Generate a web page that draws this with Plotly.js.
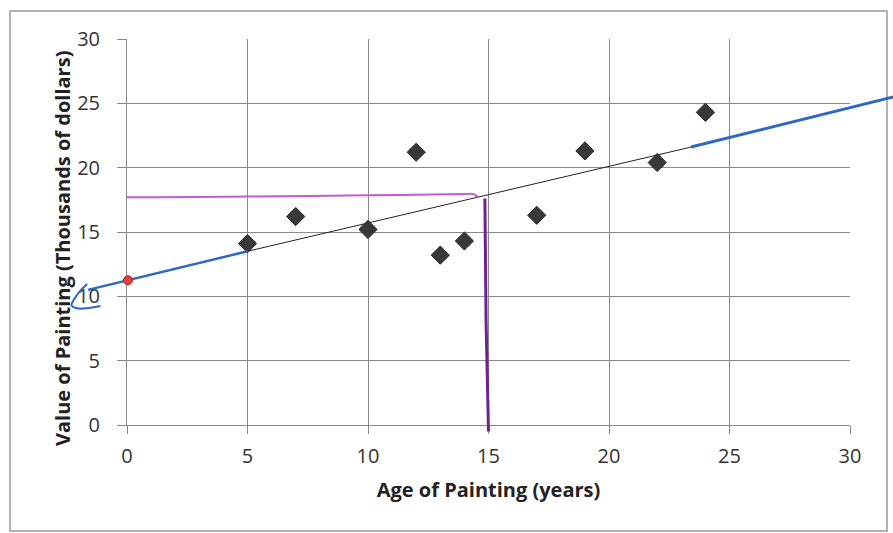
<!DOCTYPE html>
<html>
<head>
<meta charset="utf-8">
<script src="https://cdn.plot.ly/plotly-3.0.1.min.js"></script>
<style>html,body{margin:0;padding:0;background:#fff;}#chart{width:893px;height:533px;}</style>
</head>
<body>
<div id="chart"></div>
<script>
// ---- data ----
const ageYears = [5, 7, 10, 12, 13, 14, 17, 19, 22, 24];
const valueThousands = [14.1, 16.2, 15.2, 21.2, 13.2, 14.3, 16.3, 21.3, 20.4, 24.3];

const trendX = [5, 23.4];
const trendY = [13.5, 21.6];

// hand-drawn annotations (data units)
const blueLeftX = [-1.62, 0.04, 5.0];
const blueLeftY = [10.5, 11.25, 13.5];
const blueHookX = [-1.65, -1.95, -2.2, -2.3, -2.0, -1.6, -1.1];
const blueHookY = [10.95, 10.4, 9.75, 9.3, 9.05, 9.1, 9.25];
const blueRightX = [23.4, 31.8];
const blueRightY = [21.6, 25.5];
const purpleHX = [0.0, 1.3, 5, 10, 14.0, 14.35, 14.55];
const purpleHY = [17.7, 17.7, 17.75, 17.85, 17.95, 17.95, 17.75];
const purpleVX = [14.85, 14.9, 15.0];
const purpleVY = [17.6, 8.0, -0.5];
const redPointX = [0.04];
const redPointY = [11.25];

const xTicks = [0, 5, 10, 15, 20, 25, 30];
const yTicks = [0, 5, 10, 15, 20, 25, 30];
const xTitle = 'Age of Painting (years)';
const yTitle = 'Value of Painting (Thousands of dollars)';

// ---- layout geometry ----
const W = 893, H = 533;
const plotL = 127, plotR = 850, plotT = 39, plotB = 425;
const xRange = [0, 30], yRange = [0, 30];
const pxX = (plotR - plotL) / (xRange[1] - xRange[0]);
const pxY = (plotB - plotT) / (yRange[1] - yRange[0]);
const x2Range = [xRange[0] - plotL / pxX, xRange[1] + (W - plotR) / pxX];
const y2Range = [yRange[0] - (H - plotB) / pxY, yRange[1] + plotT / pxY];

const font = "'Open Sans', Lato, sans-serif";

const traces = [
  {x: trendX, y: trendY, mode: 'lines', line: {color: '#222', width: 1}, xaxis: 'x', yaxis: 'y', hoverinfo: 'skip'},
  {x: ageYears, y: valueThousands, mode: 'markers', marker: {symbol: 'diamond', size: 14, color: '#383838', line: {color: '#222', width: 1}}, xaxis: 'x', yaxis: 'y'},
  {x: purpleHX, y: purpleHY, mode: 'lines', line: {color: '#c45ad6', width: 2, shape: 'spline'}, xaxis: 'x2', yaxis: 'y2'},
  {x: purpleVX, y: purpleVY, mode: 'lines', line: {color: '#6e2190', width: 3}, xaxis: 'x2', yaxis: 'y2'},
  {x: blueLeftX, y: blueLeftY, mode: 'lines', line: {color: '#2f68c4', width: 2.5}, xaxis: 'x2', yaxis: 'y2'},
  {x: blueHookX, y: blueHookY, mode: 'lines', line: {color: '#2f68c4', width: 2, shape: 'spline'}, xaxis: 'x2', yaxis: 'y2'},
  {x: blueRightX, y: blueRightY, mode: 'lines', line: {color: '#2f68c4', width: 3}, xaxis: 'x2', yaxis: 'y2'},
  {x: redPointX, y: redPointY, mode: 'markers', marker: {symbol: 'circle', size: 9, color: '#e0403a', line: {color: '#b02020', width: 1}}, xaxis: 'x2', yaxis: 'y2'}
];

const layout = {
  width: W, height: H,
  margin: {l: 0, r: 0, t: 0, b: 0, pad: 0},
  paper_bgcolor: '#fff', plot_bgcolor: 'rgba(0,0,0,0)',
  showlegend: false,
  font: {family: font, color: '#333', size: 20},
  xaxis: {
    domain: [plotL / W, plotR / W], range: xRange, tickvals: xTicks, ticktext: xTicks.map(String),
    showgrid: true, gridcolor: '#8a8a8a', gridwidth: 1, zeroline: false,
    showline: true, linecolor: '#8a8a8a', linewidth: 1,
    ticks: 'outside', ticklen: 8, tickcolor: '#8a8a8a', ticklabelstandoff: 5,
    tickfont: {family: font, size: 20, color: '#333'},
    title: {text: '<b>' + xTitle + '</b>', font: {family: font, size: 20, color: '#222'}, standoff: 14},
    automargin: false, fixedrange: true
  },
  yaxis: {
    domain: [(H - plotB) / H, (H - plotT) / H], range: yRange, tickvals: yTicks, ticktext: yTicks.map(String),
    showgrid: true, gridcolor: '#8a8a8a', gridwidth: 1, zeroline: false,
    showline: true, linecolor: '#8a8a8a', linewidth: 1,
    ticks: 'outside', ticklen: 9, tickcolor: '#8a8a8a', ticklabelstandoff: 13,
    tickfont: {family: font, size: 20, color: '#333'},
    automargin: false, fixedrange: true
  },
  xaxis2: {domain: [0, 1], range: x2Range, anchor: 'y2', visible: false, fixedrange: true},
  yaxis2: {domain: [0, 1], range: y2Range, anchor: 'x2', visible: false, fixedrange: true},
  annotations: [
    {text: '<b>' + yTitle + '</b>', xref: 'paper', yref: 'paper', x: 62 / W, y: 1 - 249 / H,
     xanchor: 'center', yanchor: 'middle', textangle: -90, showarrow: false,
     font: {family: font, size: 20, color: '#222'}}
  ],
  shapes: [
    {type: 'rect', xref: 'paper', yref: 'paper', x0: 10 / W, x1: 887 / W, y0: 1 - 531 / H, y1: 1 - 11 / H, line: {color: '#9a9a9a', width: 1.5}, layer: 'below'}
  ]
};

Plotly.newPlot('chart', traces, layout, {staticPlot: true, displayModeBar: false});
</script>
</body>
</html>
